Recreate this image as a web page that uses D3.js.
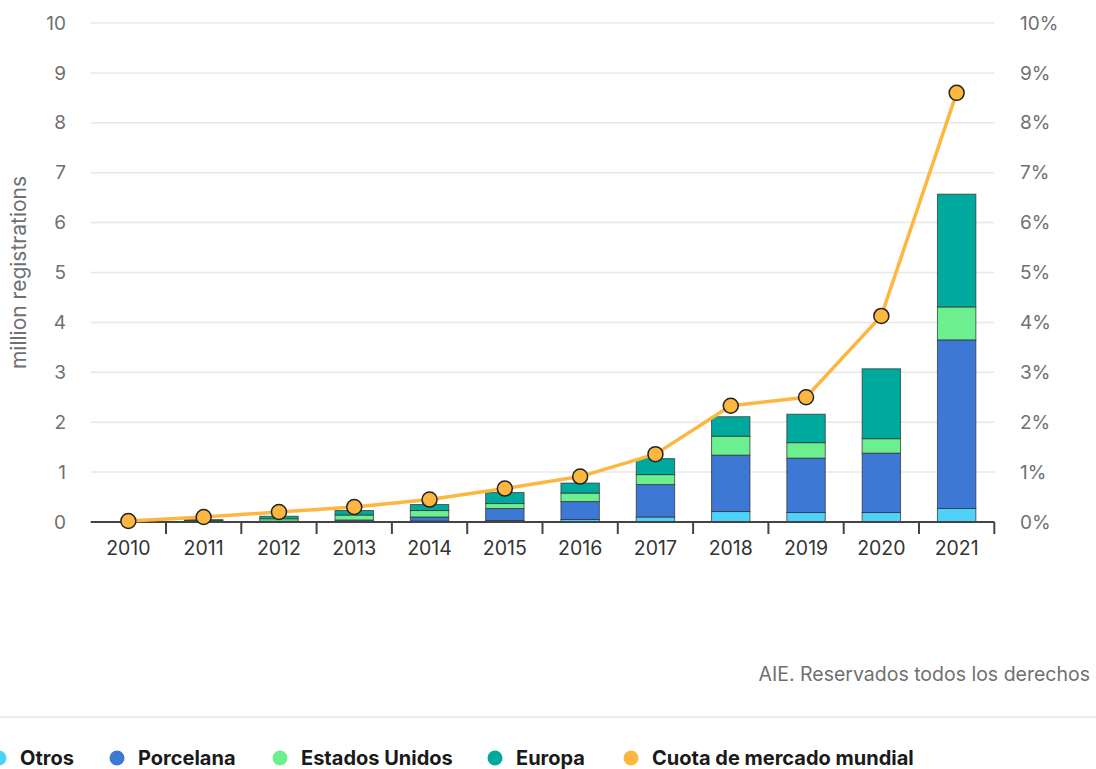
<!DOCTYPE html>
<html>
<head>
<meta charset="utf-8">
<script src="https://cdn.jsdelivr.net/npm/d3@7"></script>
<style>
  body { margin: 0; background: #fff; }
  svg text { font-family: Inter, "Open Sans", sans-serif; }
</style>
</head>
<body>
<div id="chart"></div>
<script>
// data (million registrations / % share)
var years = ["2010","2011","2012","2013","2014","2015","2016","2017","2018","2019","2020","2021"];
var otros     = [0.002, 0.003, 0.005, 0.01, 0.02, 0.03, 0.05, 0.10, 0.21, 0.19, 0.19, 0.27];
var porcelana = [0.002, 0.005, 0.01, 0.03, 0.08, 0.24, 0.36, 0.65, 1.13, 1.09, 1.19, 3.38];
var eeuu      = [0.003, 0.02, 0.05, 0.10, 0.13, 0.10, 0.17, 0.20, 0.38, 0.31, 0.29, 0.66];
var europa    = [0.003, 0.02, 0.05, 0.09, 0.12, 0.22, 0.20, 0.32, 0.39, 0.57, 1.40, 2.26];
var cuota     = [0.02, 0.1, 0.2, 0.3, 0.45, 0.67, 0.91, 1.36, 2.33, 2.5, 4.13, 8.6];

var seriesKeys = ["otros", "porcelana", "eeuu", "europa"];
var seriesNames = ["Otros", "Porcelana", "Estados Unidos", "Europa", "Cuota de mercado mundial"];
var colors = ["#4fd2fa", "#3d78d4", "#6cf08f", "#00a99d", "#fdb640"];
var yTicks = [0,1,2,3,4,5,6,7,8,9,10];

var width = 1096, height = 769;
var plotLeft = 90.7, plotRight = 994.3, plotTop = 23, plotBottom = 522;

var svg = d3.select("#chart").append("svg")
    .attr("width", width)
    .attr("height", height);

var rows = years.map(function(y, i) {
  return { year: y, otros: otros[i], porcelana: porcelana[i], eeuu: eeuu[i], europa: europa[i] };
});

var x = d3.scaleBand().domain(years).range([plotLeft, plotRight]);
var y = d3.scaleLinear().domain([0, 10]).range([plotBottom, plotTop]);
var y2 = d3.scaleLinear().domain([0, 10]).range([plotBottom, plotTop]);

// grid lines
svg.append("g")
  .selectAll("line")
  .data(yTicks.slice(1))
  .enter().append("line")
  .attr("x1", plotLeft).attr("x2", plotRight)
  .attr("y1", function(d) { return y(d); })
  .attr("y2", function(d) { return y(d); })
  .attr("stroke", "#e8e8e8")
  .attr("stroke-width", 1.5);

// left axis labels
svg.append("g")
  .selectAll("text")
  .data(yTicks)
  .enter().append("text")
  .attr("x", 66)
  .attr("y", function(d) { return y(d); })
  .attr("dy", "0.35em")
  .attr("text-anchor", "end")
  .attr("fill", "#707070")
  .style("font-size", "19px")
  .text(function(d) { return d; });

// right axis labels
svg.append("g")
  .selectAll("text")
  .data(yTicks)
  .enter().append("text")
  .attr("x", 1020)
  .attr("y", function(d) { return y2(d); })
  .attr("dy", "0.35em")
  .attr("fill", "#707070")
  .style("font-size", "19px")
  .text(function(d) { return d + "%"; });

svg.append("text")
  .attr("transform", "translate(26," + y(5) + ") rotate(-90)")
  .attr("text-anchor", "middle")
  .attr("fill", "#707070")
  .style("font-size", "21px")
  .text("million registrations");

// stacked bars
var stack = d3.stack().keys(seriesKeys);
var stacked = stack(rows);
var barW = x.bandwidth() * 0.51;

svg.append("g")
  .selectAll("g")
  .data(stacked)
  .enter().append("g")
  .attr("fill", function(d, i) { return colors[i]; })
  .selectAll("rect")
  .data(function(d) { return d; })
  .enter().append("rect")
  .attr("x", function(d) { return x(d.data.year) + (x.bandwidth() - barW) / 2; })
  .attr("y", function(d) { return y(d[1]); })
  .attr("width", barW)
  .attr("height", function(d) { return y(d[0]) - y(d[1]); })
  .attr("stroke", "#333")
  .attr("stroke-opacity", 0.75)
  .attr("stroke-width", 1);

// x axis
var xAxis = svg.append("g").attr("transform", "translate(0," + plotBottom + ")");
xAxis.append("line")
  .attr("x1", plotLeft).attr("x2", plotRight)
  .attr("stroke", "#444").attr("stroke-width", 2);
xAxis.selectAll(".tick")
  .data(years)
  .enter().append("line")
  .attr("x1", function(d) { return x(d) + x.bandwidth(); })
  .attr("x2", function(d) { return x(d) + x.bandwidth(); })
  .attr("y1", 0).attr("y2", 12)
  .attr("stroke", "#444").attr("stroke-width", 2);
xAxis.selectAll("text")
  .data(years)
  .enter().append("text")
  .attr("x", function(d) { return x(d) + x.bandwidth() / 2; })
  .attr("y", 26)
  .attr("dy", "0.35em")
  .attr("text-anchor", "middle")
  .attr("fill", "#333")
  .style("font-size", "19.5px")
  .text(function(d) { return d; });

// market share line
var line = d3.line()
  .x(function(d, i) { return x(years[i]) + x.bandwidth() / 2; })
  .y(function(d) { return y2(d); });

svg.append("path")
  .attr("d", line(cuota))
  .attr("fill", "none")
  .attr("stroke", colors[4])
  .attr("stroke-width", 3.5)
  .attr("stroke-linejoin", "round");

svg.append("g")
  .selectAll("circle")
  .data(cuota)
  .enter().append("circle")
  .attr("cx", function(d, i) { return x(years[i]) + x.bandwidth() / 2; })
  .attr("cy", function(d) { return y2(d); })
  .attr("r", 7.5)
  .attr("fill", colors[4])
  .attr("stroke", "#222")
  .attr("stroke-width", 1.5);

// source
svg.append("text")
  .attr("x", 1090)
  .attr("y", 674)
  .attr("dy", "0.35em")
  .attr("text-anchor", "end")
  .attr("fill", "#707070")
  .style("font-size", "19.5px")
  .text("AIE. Reservados todos los derechos");

svg.append("line")
  .attr("x1", 0).attr("x2", width)
  .attr("y1", 717).attr("y2", 717)
  .attr("stroke", "#e6e6e6").attr("stroke-width", 1.5);

// legend
var legendX = [-1, 117, 280, 495, 631];
var legend = svg.append("g")
  .selectAll("g")
  .data(seriesNames)
  .enter().append("g")
  .attr("transform", function(d, i) { return "translate(" + legendX[i] + ",758)"; });
legend.append("circle")
  .attr("r", 7.5)
  .attr("fill", function(d, i) { return colors[i]; });
legend.append("text")
  .attr("x", 21)
  .attr("dy", "0.35em")
  .attr("fill", "#1a1a1a")
  .style("font-size", "20px")
  .style("font-weight", "700")
  .text(function(d) { return d; });
</script>
</body>
</html>
